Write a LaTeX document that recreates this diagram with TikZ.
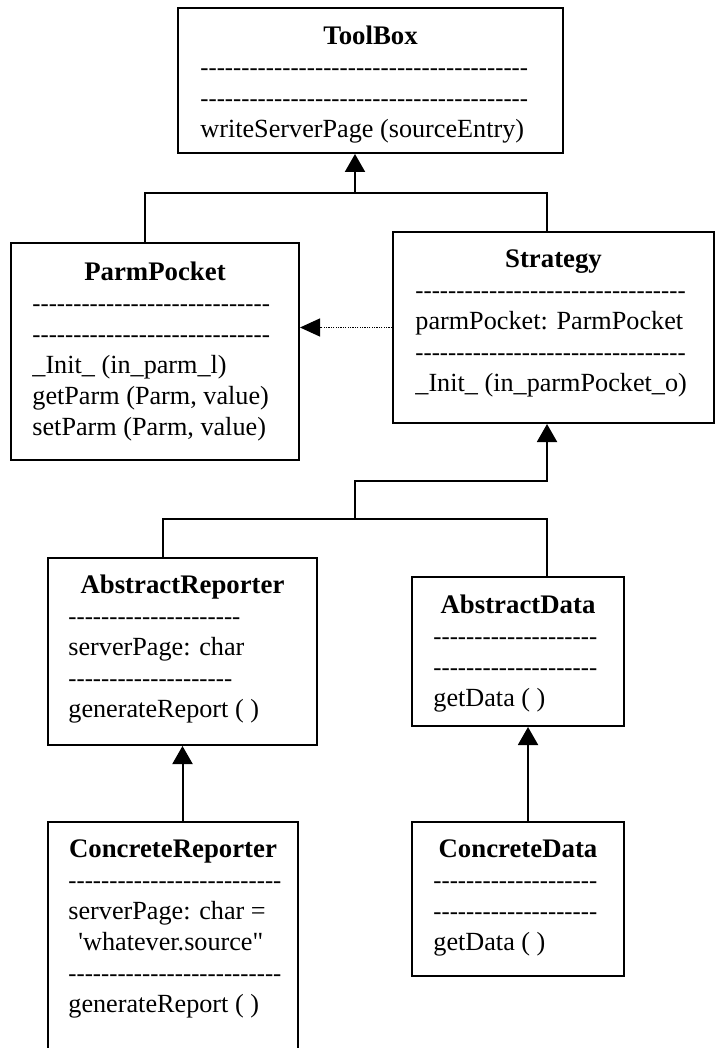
\documentclass[tikz,border=0pt]{standalone}
\usepackage{fontspec}
\setmainfont{Liberation Serif}
\usepackage{tikz}
\usetikzlibrary{arrows.meta,calc}

% a row of single hyphens (no en-dash ligature)
\newcommand{\dashrow}[1]{{\fontsize{12.3pt}{15.5pt}\selectfont\foreach \k in {1,...,#1}{-}}}

\begin{document}
\begin{tikzpicture}[x=0.5pt,y=-0.5pt,
          every node/.style={font=\fontsize{13.1pt}{15.5pt}\selectfont},
          cls/.style={draw, line width=1pt, inner sep=0pt, fill=white},
          ttl/.style={font=\fontsize{13.4pt}{15.5pt}\selectfont\bfseries, anchor=base, inner sep=0pt},
          txt/.style={anchor=base west, inner sep=0pt},
          ln/.style={line width=1pt},
          inh/.style={line width=1pt, -{Triangle[length=9pt,width=10pt]}},
          dep/.style={line width=0.6pt, dash pattern=on 0.6pt off 0.6pt,
            -{Triangle[length=10pt,width=9pt]}}]
        \useasboundingbox (0,0) rectangle (718,1048);
        % class boxes
        \node[cls, minimum width=192.5pt, minimum height=72.5pt] (tb) at (370.5,80.5) {};
        \node[cls, minimum width=144pt, minimum height=108.5pt] (pp) at (155,351.5) {};
        \node[cls, minimum width=160.5pt, minimum height=95.5pt] (st) at (553.5,327.5) {};
        \node[cls, minimum width=134.5pt, minimum height=93.5pt] (ar) at (182.5,651.5) {};
        \node[cls, minimum width=106pt, minimum height=74.5pt] (ad) at (518,651.5) {};
        \node[cls, minimum width=125pt, minimum height=139pt] (cr) at (173,961) {};
        \node[cls, minimum width=106pt, minimum height=77pt] (cd) at (518,899) {};

        % ToolBox
        \node[ttl] (tb-t) at (370.5,45) {ToolBox};
        \foreach \t [count=\i from 0] in {{\dashrow{40}}, {\dashrow{40}},
            {writeServerPage (sourceEntry)}}
          \node[txt] (tb-\i) at (200,76+31*\i) {\t};
        % ParmPocket
        \node[ttl] (pp-t) at (155,280) {ParmPocket};
        \foreach \t [count=\i from 0] in {{\dashrow{29}}, {\dashrow{29}},
            {\_Init\_ (in\_parm\_l)}, {getParm (Parm, value)}, {setParm (Parm, value)}}
          \node[txt] (pp-\i) at (32,311+31*\i) {\t};
        % Strategy
        \node[ttl] (st-t) at (553.5,267) {Strategy};
        \foreach \t [count=\i from 0] in {{\dashrow{33}}, {parmPocket: ParmPocket},
            {\dashrow{33}}, {\_Init\_ (in\_parmPocket\_o)}}
          \node[txt] (st-\i) at (415,298+31*\i) {\t};
        % AbstractReporter
        \node[ttl] (ar-t) at (182.5,593) {AbstractReporter};
        \foreach \t [count=\i from 0] in {{\dashrow{21}}, {serverPage: char},
            {\dashrow{20}}, {generateReport ( )}}
          \node[txt] (ar-\i) at (68,624+31*\i) {\t};
        % AbstractData
        \node[ttl] (ad-t) at (518,613) {AbstractData};
        \foreach \t [count=\i from 0] in {{\dashrow{20}}, {\dashrow{20}}, {getData ( )}}
          \node[txt] (ad-\i) at (433,644+31*\i) {\t};
        % ConcreteReporter
        \node[ttl] (cr-t) at (173,857) {ConcreteReporter};
        \foreach \t [count=\i from 0] in {{\dashrow{26}}, {serverPage: char =},
            {\hspace*{5pt}\textquotesingle whatever.source\textquotedbl}, {\dashrow{26}},
            {generateReport ( )}}
          \node[txt] (cr-\i) at (68,888+31*\i) {\t};
        % ConcreteData
        \node[ttl] (cd-t) at (518,857) {ConcreteData};
        \foreach \t [count=\i from 0] in {{\dashrow{20}}, {\dashrow{20}}, {getData ( )}}
          \node[txt] (cd-\i) at (433,888+31*\i) {\t};

        % generalisation to ToolBox
        \coordinate (j1) at (355,193);
        \coordinate (j1l) at (145,193);
        \coordinate (j1r) at (547,193);
        \draw[ln] (j1l |- pp.north) -- (j1l) -- (j1r) -- (j1r |- st.north);
        \draw[inh] (j1) -- (j1 |- tb.south);
        % Strategy uses ParmPocket
        \draw[dep] (st.west) -- (st.west -| pp.east);
        % generalisation to Strategy
        \coordinate (j2a) at (547,481);
        \coordinate (j2b) at (355,481);
        \coordinate (j2l) at (163,519);
        \coordinate (j2r) at (547,519);
        \draw[inh] (j2b |- j2l) -- (j2b) -- (j2a) -- (j2a |- st.south);
        \draw[ln] (j2l |- ar.north) -- (j2l) -- (j2r) -- (j2r |- ad.north);
        % concrete classes
        \draw[inh] (cr.north -| ar.south) -- (ar.south);
        \draw[inh] ($(cd.north)+(10,0)$) -- ($(ad.south)+(10,0)$);
      \end{tikzpicture}
\end{document}
